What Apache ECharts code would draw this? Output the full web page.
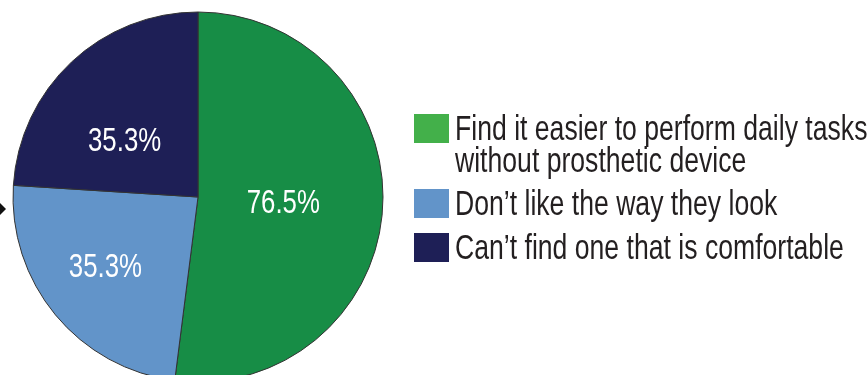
<!DOCTYPE html>
<html>
<head>
<meta charset="utf-8">
<script src="https://cdn.jsdelivr.net/npm/echarts@6/dist/echarts.min.js"></script>
<style>
  html, body { margin: 0; padding: 0; background: #ffffff; }
  #chart { width: 867px; height: 375px; }
</style>
</head>
<body>
<div id="chart"></div>
<script>
// Reasons for not using a prosthetic device (share of respondents, %)
const categories = [
  'Find it easier to perform daily tasks without prosthetic device',
  'Don\u2019t like the way they look',
  'Can\u2019t find one that is comfortable'
];
const values = [76.5, 35.3, 35.3];
const sliceColors = ['#178d46', '#6294c9', '#1e1f56'];
const legendColors = ['#43b04a', '#6294c9', '#1e1f56'];
const legendLines = [
  ['Find it easier to perform daily tasks', 'without prosthetic device'],
  ['Don\u2019t like the way they look'],
  ['Can\u2019t find one that is comfortable']
];
// nudges for the in-slice percentage labels
const labelOffsets = [[-10, 1], [-19, 10], [-8, 14]];

const FONT = '"Liberation Sans", Arial, sans-serif';
const NARROW = 0.76;   // horizontal squeeze giving a condensed look

const chart = echarts.init(document.getElementById('chart'), null, { renderer: 'canvas' });

// legend built from the category list
const legendGraphics = [];
const swatchTops = [114, 189, 233];
const lineH = 32;
legendLines.forEach((lines, i) => {
  legendGraphics.push({
    type: 'rect',
    shape: { x: 414, y: swatchTops[i], width: 35, height: 29 },
    style: { fill: legendColors[i] }
  });
  lines.forEach((t, j) => {
    legendGraphics.push({
      type: 'text',
      x: 455,
      y: swatchTops[i] + 34 + j * lineH,
      scaleX: NARROW,
      style: {
        text: t,
        fill: '#231f20',
        font: '35px ' + FONT,
        textVerticalAlign: 'bottom'
      }
    });
  });
});

chart.setOption({
  animation: false,
  graphic: [
    // pointer arrowhead at the left margin
    {
      type: 'polygon',
      shape: { points: [[0, 203], [6, 209], [0, 215]] },
      style: { fill: '#111111' }
    }
  ].concat(legendGraphics),
  series: [{
    type: 'pie',
    center: [198, 197],
    radius: 185,
    startAngle: 90,
    clockwise: true,
    avoidLabelOverlap: false,
    itemStyle: { borderColor: '#333333', borderWidth: 1 },
    label: {
      show: true,
      position: 'inside',
      color: '#ffffff',
      fontFamily: FONT,
      fontSize: 34,
      formatter: p => p.value.toFixed(1) + '%'
    },
    labelLine: { show: false },
    emphasis: { disabled: true },
    data: categories.map((c, i) => ({
      name: c,
      value: values[i],
      itemStyle: { color: sliceColors[i] },
      label: { offset: labelOffsets[i] }
    }))
  }]
});

// squeeze the slice labels horizontally to match the condensed legend type
const pieData = chart.getModel().getSeriesByIndex(0).getData();
pieData.each(idx => {
  const sector = pieData.getItemGraphicEl(idx);
  const txt = sector && sector.getTextContent && sector.getTextContent();
  if (txt) {
    txt.scaleX = NARROW;
    txt.markRedraw();
  }
});
chart.getZr().refreshImmediately();
</script>
</body>
</html>
